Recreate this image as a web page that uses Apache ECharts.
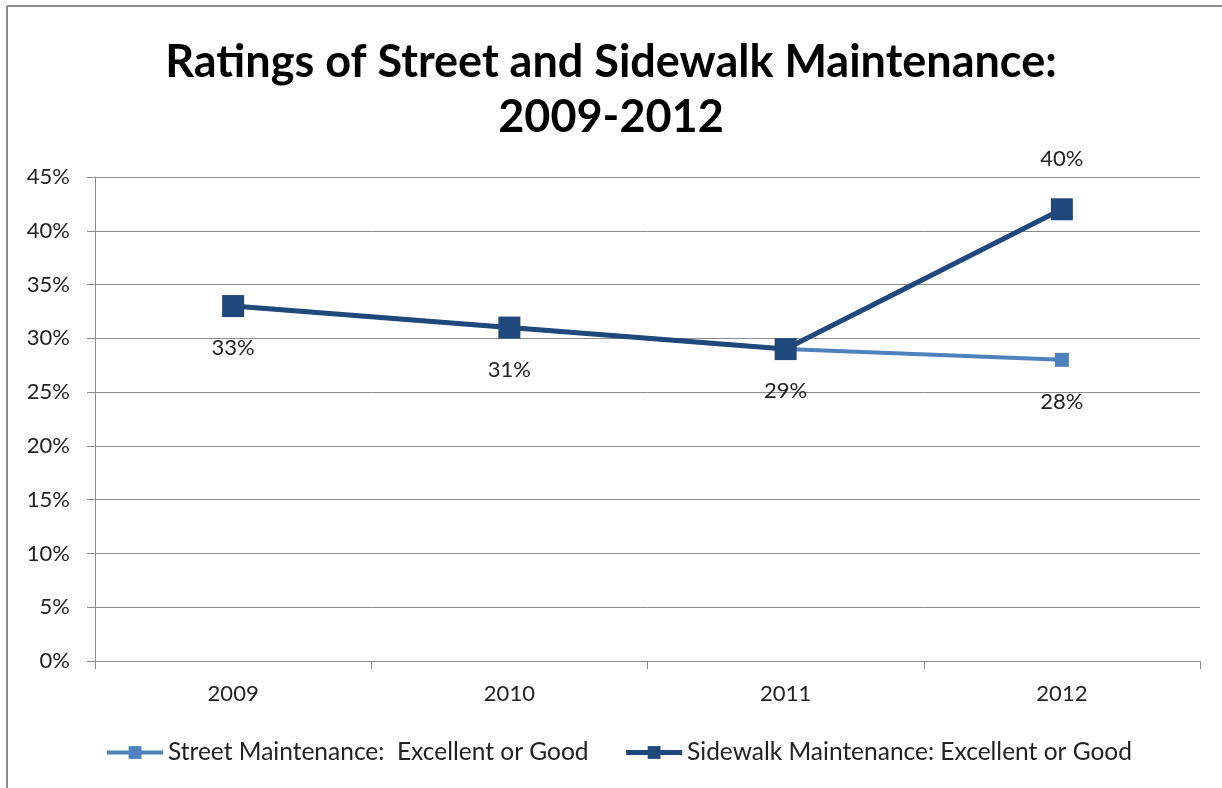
<!DOCTYPE html>
<html>
<head>
<meta charset="utf-8">
<script src="https://cdn.jsdelivr.net/npm/echarts@6/dist/echarts.min.js"></script>
<style>
html,body{margin:0;padding:0;background:#fff;}
#chart{width:1222px;height:788px;}
</style>
</head>
<body>
<div id="chart"></div>
<script>
const titleText = 'Ratings of Street and Sidewalk Maintenance:\n2009-2012';
const categories = ['2009', '2010', '2011', '2012'];
const streetName = 'Street Maintenance:  Excellent or Good';
const sidewalkName = 'Sidewalk Maintenance: Excellent or Good';
const streetValues = [33, 31, 29, 28];
const sidewalkValues = [33, 31, 29, 42];
const streetLabels = ['33%', '31%', '29%', '28%'];
const sidewalkLabels = ['', '', '', '40%'];
const yTicks = [0, 5, 10, 15, 20, 25, 30, 35, 40, 45];

const FONT = 'Lato, "Open Sans", sans-serif';
const chart = echarts.init(document.getElementById('chart'), null, {renderer: 'canvas'});
chart.setOption({
  animation: false,
  backgroundColor: '#ffffff',
  textStyle: {fontFamily: FONT},
  title: {
    text: titleText,
    left: 'center',
    top: 30,
    textStyle: {fontFamily: FONT, fontSize: 45, fontWeight: 'bold', color: '#000', lineHeight: 55}
  },
  graphic: [
    {type: 'line', shape: {x1: 7, y1: 6, x2: 1222, y2: 6}, style: {stroke: '#8c8c8c', lineWidth: 2}},
    {type: 'line', shape: {x1: 7, y1: 6, x2: 7, y2: 788}, style: {stroke: '#8c8c8c', lineWidth: 2}}
  ],
  grid: {left: 95, right: 22, top: 177, bottom: 127, containLabel: false},
  legend: {
    left: 100,
    top: 735,
    itemWidth: 56,
    itemHeight: 16,
    itemGap: 35,
    textStyle: {fontFamily: FONT, fontSize: 24.5, color: '#222'},
    data: [
      {name: streetName, lineStyle: {width: 4}},
      {name: sidewalkName, lineStyle: {width: 5}}
    ]
  },
  xAxis: {
    type: 'category',
    data: categories,
    boundaryGap: true,
    axisLine: {lineStyle: {color: '#8c8c8c', width: 1}},
    axisTick: {show: true, length: 8, lineStyle: {color: '#8c8c8c'}},
    axisLabel: {fontFamily: FONT, fontSize: 22, color: '#222', margin: 22}
  },
  yAxis: {
    type: 'value',
    min: yTicks[0],
    max: yTicks[yTicks.length - 1],
    interval: 5,
    axisLine: {show: true, lineStyle: {color: '#8c8c8c', width: 1}},
    axisTick: {show: true, length: 8, lineStyle: {color: '#8c8c8c'}},
    axisLabel: {fontFamily: FONT, fontSize: 22, color: '#222', margin: 25, formatter: '{value}%'},
    splitLine: {show: true, lineStyle: {color: '#8c8c8c', width: 1}}
  },
  series: [
    {
      name: streetName,
      type: 'line',
      data: streetValues,
      symbol: 'rect',
      symbolSize: 14,
      itemStyle: {color: '#4f81bd'},
      lineStyle: {color: '#4f81bd', width: 4},
      z: 2,
      label: {
        show: true,
        position: 'bottom',
        distance: 24,
        fontFamily: FONT,
        fontSize: 22,
        color: '#222',
        formatter: p => streetLabels[p.dataIndex]
      }
    },
    {
      name: sidewalkName,
      type: 'line',
      data: sidewalkValues,
      symbol: 'rect',
      symbolSize: 22,
      itemStyle: {color: '#1f497d'},
      lineStyle: {color: '#1f497d', width: 5},
      z: 3,
      label: {
        show: true,
        position: 'top',
        distance: 28,
        fontFamily: FONT,
        fontSize: 22,
        color: '#222',
        formatter: p => sidewalkLabels[p.dataIndex]
      }
    }
  ]
});
</script>
</body>
</html>
